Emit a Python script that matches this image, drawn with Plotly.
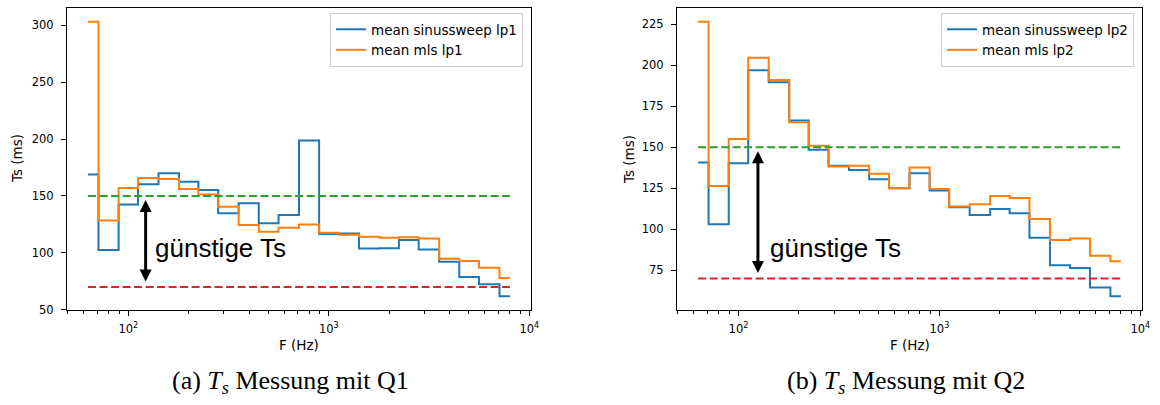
import math
import plotly.graph_objects as go

# Third-octave band centre frequencies (Hz)
freqs = [63, 80, 100, 125, 160, 200, 250, 315, 400, 500, 630, 800,
         1000, 1250, 1600, 2000, 2500, 3150, 4000, 5000, 6300, 8000]

# Mean Ts (ms) per band, loudspeaker position lp1 (source Q1)
ts_sweep_lp1 = [168.8, 102.4, 142.6, 160.3, 170.0, 162.6, 155.3, 134.7, 143.5, 125.9, 133.2, 198.8,
                116.5, 117.1, 103.8, 104.0, 111.2, 102.9, 92.1, 78.8, 72.4, 61.8]
ts_mls_lp1 = [303.2, 128.5, 157.1, 165.9, 165.0, 156.2, 151.2, 140.6, 124.4, 118.5, 122.1, 125.0,
              117.6, 115.9, 114.1, 113.2, 113.8, 112.6, 94.7, 92.9, 86.8, 77.9]

# Mean Ts (ms) per band, loudspeaker position lp2 (source Q2)
ts_sweep_lp2 = [140.7, 103.0, 140.3, 197.0, 189.7, 166.4, 148.5, 138.7, 136.2, 130.5, 125.0, 134.2,
                123.6, 113.4, 108.7, 112.3, 109.7, 94.8, 78.1, 76.4, 64.4, 59.1]
ts_mls_lp2 = [226.6, 126.4, 155.0, 204.6, 191.1, 165.2, 150.9, 138.3, 138.7, 133.8, 125.0, 137.7,
              124.6, 113.8, 115.2, 120.3, 119.1, 106.2, 93.4, 94.4, 83.8, 80.5]

# Limits of the favourable Ts region (ms)
ts_upper = 150
ts_lower = 70

# Frequency at which the range arrow is drawn and where its label starts
arrow_freq = [122, 125]
label_freq = [133, 139.5]
label_ts = [104, 88.5]

legend_names = [["mean sinussweep lp1", "mean mls lp1"],
                ["mean sinussweep lp2", "mean mls lp2"]]
captions = ["(a) <i>T<sub>s</sub></i> Messung mit Q1",
            "(b) <i>T<sub>s</sub></i> Messung mit Q2"]
x_title = "F (Hz)"
y_title = "Ts (ms)"

BLUE, ORANGE, GREEN, RED = "#1f77b4", "#ff7f0e", "#2ca02c", "#d62728"
W, H = 1160, 405
SANS = "DejaVu Sans"

# panel geometry in pixels
panels_px = [(67, 531), (677, 1142)]
plot_top, plot_bottom = 8, 310


def padded(lo, hi, frac=0.05):
    span = hi - lo
    return [lo - frac * span, hi + frac * span]


fig = go.Figure()

series = [(ts_sweep_lp1, ts_mls_lp1), (ts_sweep_lp2, ts_mls_lp2)]
minor_vals = [m * 10 ** e for e in (1, 2, 3) for m in range(2, 10)]

annotations = []
for i, (sweep, mls) in enumerate(series):
    xa = "x" if i == 0 else "x2"
    ya = "y" if i == 0 else "y2"
    leg = "legend" if i == 0 else "legend2"
    for vals, name, col in ((sweep, legend_names[i][0], BLUE), (mls, legend_names[i][1], ORANGE)):
        fig.add_trace(go.Scatter(
            x=freqs, y=vals, name=name, mode="lines",
            line=dict(color=col, width=2, shape="hvh"),
            xaxis=xa, yaxis=ya, legend=leg, hoverinfo="skip"))
    for level, col in ((ts_upper, GREEN), (ts_lower, RED)):
        fig.add_trace(go.Scatter(
            x=[freqs[0], freqs[-1]], y=[level, level], mode="lines",
            line=dict(color=col, width=2, dash="8px,3.5px"),
            xaxis=xa, yaxis=ya, showlegend=False, hoverinfo="skip"))

    x0, x1 = panels_px[i]
    xr = padded(math.log10(min(freqs)), math.log10(max(freqs)))
    all_vals = sweep + mls + [ts_upper, ts_lower]
    yr = padded(min(all_vals), max(all_vals))

    axis_common = dict(showline=True, mirror=True, linecolor="black", linewidth=1,
                       showgrid=False, zeroline=False, ticks="outside", ticklen=5,
                       tickwidth=1, tickcolor="black", automargin=False,
                       tickfont=dict(family=SANS, size=11.5, color="black"))
    xkey = "xaxis" if i == 0 else "xaxis2"
    ykey = "yaxis" if i == 0 else "yaxis2"
    fig.update_layout({
        xkey: dict(type="log", range=xr, domain=[x0 / W, x1 / W], anchor=ya,
                   tickvals=[100, 1000, 10000],
                   ticktext=["10<sup>2</sup>", "10<sup>3</sup>", "10<sup>4</sup>"],
                   ticklabelstandoff=3,
                   minor=dict(tickvals=minor_vals, ticks="outside", ticklen=2.5,
                              tickwidth=0.8, tickcolor="black"),
                   **axis_common),
        ykey: dict(range=yr, domain=[1 - plot_bottom / H, 1 - plot_top / H], anchor=xa,
                   tick0=0, dtick=50 if i == 0 else 25, ticklabelstandoff=5,
                   **axis_common),
    })

    # double arrow between the two limits
    af = math.log10(arrow_freq[i])
    annotations.append(dict(
        x=af, y=ts_upper, ax=af, ay=ts_lower, xref=xa, yref=ya, axref=xa, ayref=ya,
        text="", showarrow=True, arrowside="end+start", arrowhead=2, startarrowhead=2,
        arrowsize=0.8, startarrowsize=0.8, arrowwidth=3, arrowcolor="black",
        standoff=4, startstandoff=4))
    annotations.append(dict(
        x=math.log10(label_freq[i]), y=label_ts[i], xref=xa, yref=ya,
        text="günstige Ts", showarrow=False, xanchor="left", yanchor="middle",
        font=dict(family="Liberation Sans", size=26, color="black")))

    cx = (x0 + x1) / 2
    annotations.append(dict(
        x=cx / W, y=1 - 345 / H, xref="paper", yref="paper", text=x_title,
        showarrow=False, xanchor="center", yanchor="middle",
        font=dict(family=SANS, size=13.5, color="black")))
    annotations.append(dict(
        x=(17 if i == 0 else 629) / W, y=1 - 159 / H, xref="paper", yref="paper",
        text=y_title, textangle=-90, showarrow=False, xanchor="center", yanchor="middle",
        font=dict(family=SANS, size=13.5, color="black")))
    annotations.append(dict(
        x=(290 if i == 0 else 906) / W, y=1 - 382 / H, xref="paper", yref="paper",
        text=captions[i], showarrow=False, xanchor="center", yanchor="middle",
        font=dict(family="Liberation Serif", size=26, color="black")))

legend_common = dict(xanchor="right", yanchor="top", bgcolor="rgba(255,255,255,0.8)",
                     bordercolor="#cccccc", borderwidth=1,
                     font=dict(family=SANS, size=13.5, color="black"),
                     tracegroupgap=0, itemwidth=30)

fig.update_layout(
    width=W, height=H, margin=dict(l=0, r=0, t=0, b=0, autoexpand=False),
    paper_bgcolor="white", plot_bgcolor="white",
    annotations=annotations,
    legend=dict(x=523 / W, y=1 - 13 / H, **legend_common),
    legend2=dict(x=1134 / W, y=1 - 13 / H, **legend_common),
    showlegend=True,
)

fig.write_html("out.html")
